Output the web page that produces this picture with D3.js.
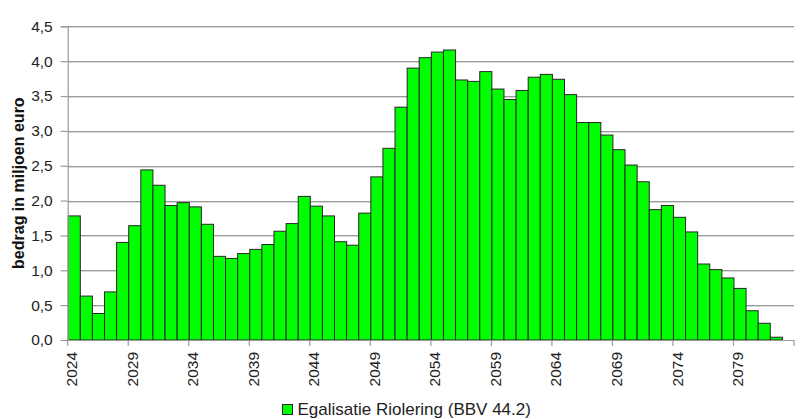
<!DOCTYPE html>
<html><head><meta charset="utf-8">
<script src="https://cdn.jsdelivr.net/npm/d3@7"></script>
<style>
html,body{margin:0;padding:0;background:#fff;}
svg{display:block;font-family:"Liberation Sans",Arial,sans-serif;}
</style></head>
<body>
<svg id="chart" width="808" height="419"></svg>
<script>
// Data
const years = d3.range(2024, 2084); // categories 2024..2083
const values = [
  1.78, 0.63, 0.38, 0.69, 1.40, 1.64, 2.44, 2.22, 1.93, 1.97,
  1.91, 1.66, 1.20, 1.17, 1.24, 1.30, 1.37, 1.56, 1.67, 2.06,
  1.92, 1.78, 1.41, 1.36, 1.82, 2.34, 2.75, 3.34, 3.90, 4.05,
  4.13, 4.16, 3.73, 3.71, 3.85, 3.60, 3.45, 3.58, 3.77, 3.81,
  3.74, 3.52, 3.12, 3.12, 2.94, 2.73, 2.51, 2.27, 1.87, 1.93,
  1.76, 1.55, 1.09, 1.01, 0.89, 0.74, 0.42, 0.24, 0.04, null
];
const yTicks = [0, 0.5, 1, 1.5, 2, 2.5, 3, 3.5, 4, 4.5];
const xTickYears = [2024, 2029, 2034, 2039, 2044, 2049, 2054, 2059, 2064, 2069, 2074, 2079];
const seriesName = "Egalisatie Riolering (BBV 44.2)";
const yTitle = "bedrag in miljoen euro";

const svg = d3.select("#chart");
const L = 67.7, R = 794, T = 26.3, B = 340;

const x = d3.scaleBand().domain(years).range([L, R]).padding(0);
const y = d3.scaleLinear().domain([0, 4.5]).range([B, T]);
const bw = x.bandwidth();
const nl = d3.formatLocale({decimal: ",", thousands: ".", grouping: [3], currency: ["€", ""]});
const fmt = nl.format(".1f");

// gridlines
const grid = svg.append("g");
grid.selectAll("line.s").data(yTicks.filter(d => d > 0)).join("line")
  .attr("x1", L).attr("x2", R)
  .attr("y1", d => Math.round(y(d)) + 1.5).attr("y2", d => Math.round(y(d)) + 1.5)
  .attr("stroke", "#d8d8d8").attr("stroke-width", 1);
grid.selectAll("line.g").data(yTicks.filter(d => d > 0)).join("line")
  .attr("x1", L).attr("x2", R)
  .attr("y1", d => Math.round(y(d)) + 0.5).attr("y2", d => Math.round(y(d)) + 0.5)
  .attr("stroke", "#9a9a9a").attr("stroke-width", 1.2);

// bars
const data = years.map((yr, i) => ({year: yr, value: values[i]})).filter(d => d.value != null);
svg.append("g").selectAll("rect").data(data).join("rect")
  .attr("x", d => x(d.year) + 0.5)
  .attr("y", d => y(d.value))
  .attr("width", bw)
  .attr("height", d => y(0) - y(d.value))
  .attr("fill", "#00ff00")
  .attr("stroke", "#262626")
  .attr("stroke-width", 1);

// y axis
const yAxis = svg.append("g").attr("transform", `translate(${L},0)`)
  .call(d3.axisLeft(y).tickValues(yTicks).tickFormat(fmt).tickSize(7).tickPadding(8));
yAxis.select(".domain").attr("stroke", "#9a9a9a").attr("stroke-width", 1.2);
yAxis.selectAll(".tick line").attr("stroke", "#9a9a9a").attr("stroke-width", 1.2);
yAxis.selectAll(".tick text").attr("font-size", "15.5px").attr("fill", "#222")
  .attr("font-family", "Liberation Sans, Arial, sans-serif");

// x axis
const xAxis = svg.append("g").attr("transform", `translate(0,${B})`)
  .call(d3.axisBottom(x).tickValues(xTickYears).tickSize(0).tickPadding(0).tickFormat(d => d));
xAxis.select(".domain").attr("stroke", "#9a9a9a").attr("stroke-width", 1.2);
xAxis.selectAll(".tick text")
  .attr("font-size", "15.5px").attr("fill", "#222")
  .attr("font-family", "Liberation Sans, Arial, sans-serif")
  .attr("text-anchor", "end")
  .attr("dy", null)
  .attr("transform", "translate(-2,12) rotate(-90)")
  .attr("dominant-baseline", "central")
  .attr("x", 0).attr("y", 0);
// tick marks at category boundaries every 5 categories
const boundaries = d3.range(0, years.length + 1, 5).map(i => L + i * bw);
xAxis.selectAll("line.bt").data(boundaries).join("line")
  .attr("class", "bt")
  .attr("x1", d => d).attr("x2", d => d).attr("y1", 0).attr("y2", 6)
  .attr("stroke", "#9a9a9a").attr("stroke-width", 1.2);

// y title
svg.append("text")
  .attr("transform", `translate(18,${(T + B) / 2}) rotate(-90)`)
  .attr("text-anchor", "middle").attr("dominant-baseline", "central")
  .attr("font-size", "16px").attr("font-weight", "bold").attr("fill", "#111")
  .text(yTitle);

// legend
const lg = svg.append("g");
lg.append("rect").attr("x", 282.5).attr("y", 404.5).attr("width", 10).attr("height", 10)
  .attr("fill", "#00ff00").attr("stroke", "#262626").attr("stroke-width", 1);
lg.append("text").attr("x", 297.5).attr("y", 414.5)
  .attr("font-size", "17px").attr("fill", "#222")
  .text(seriesName);
</script>
</body></html>
